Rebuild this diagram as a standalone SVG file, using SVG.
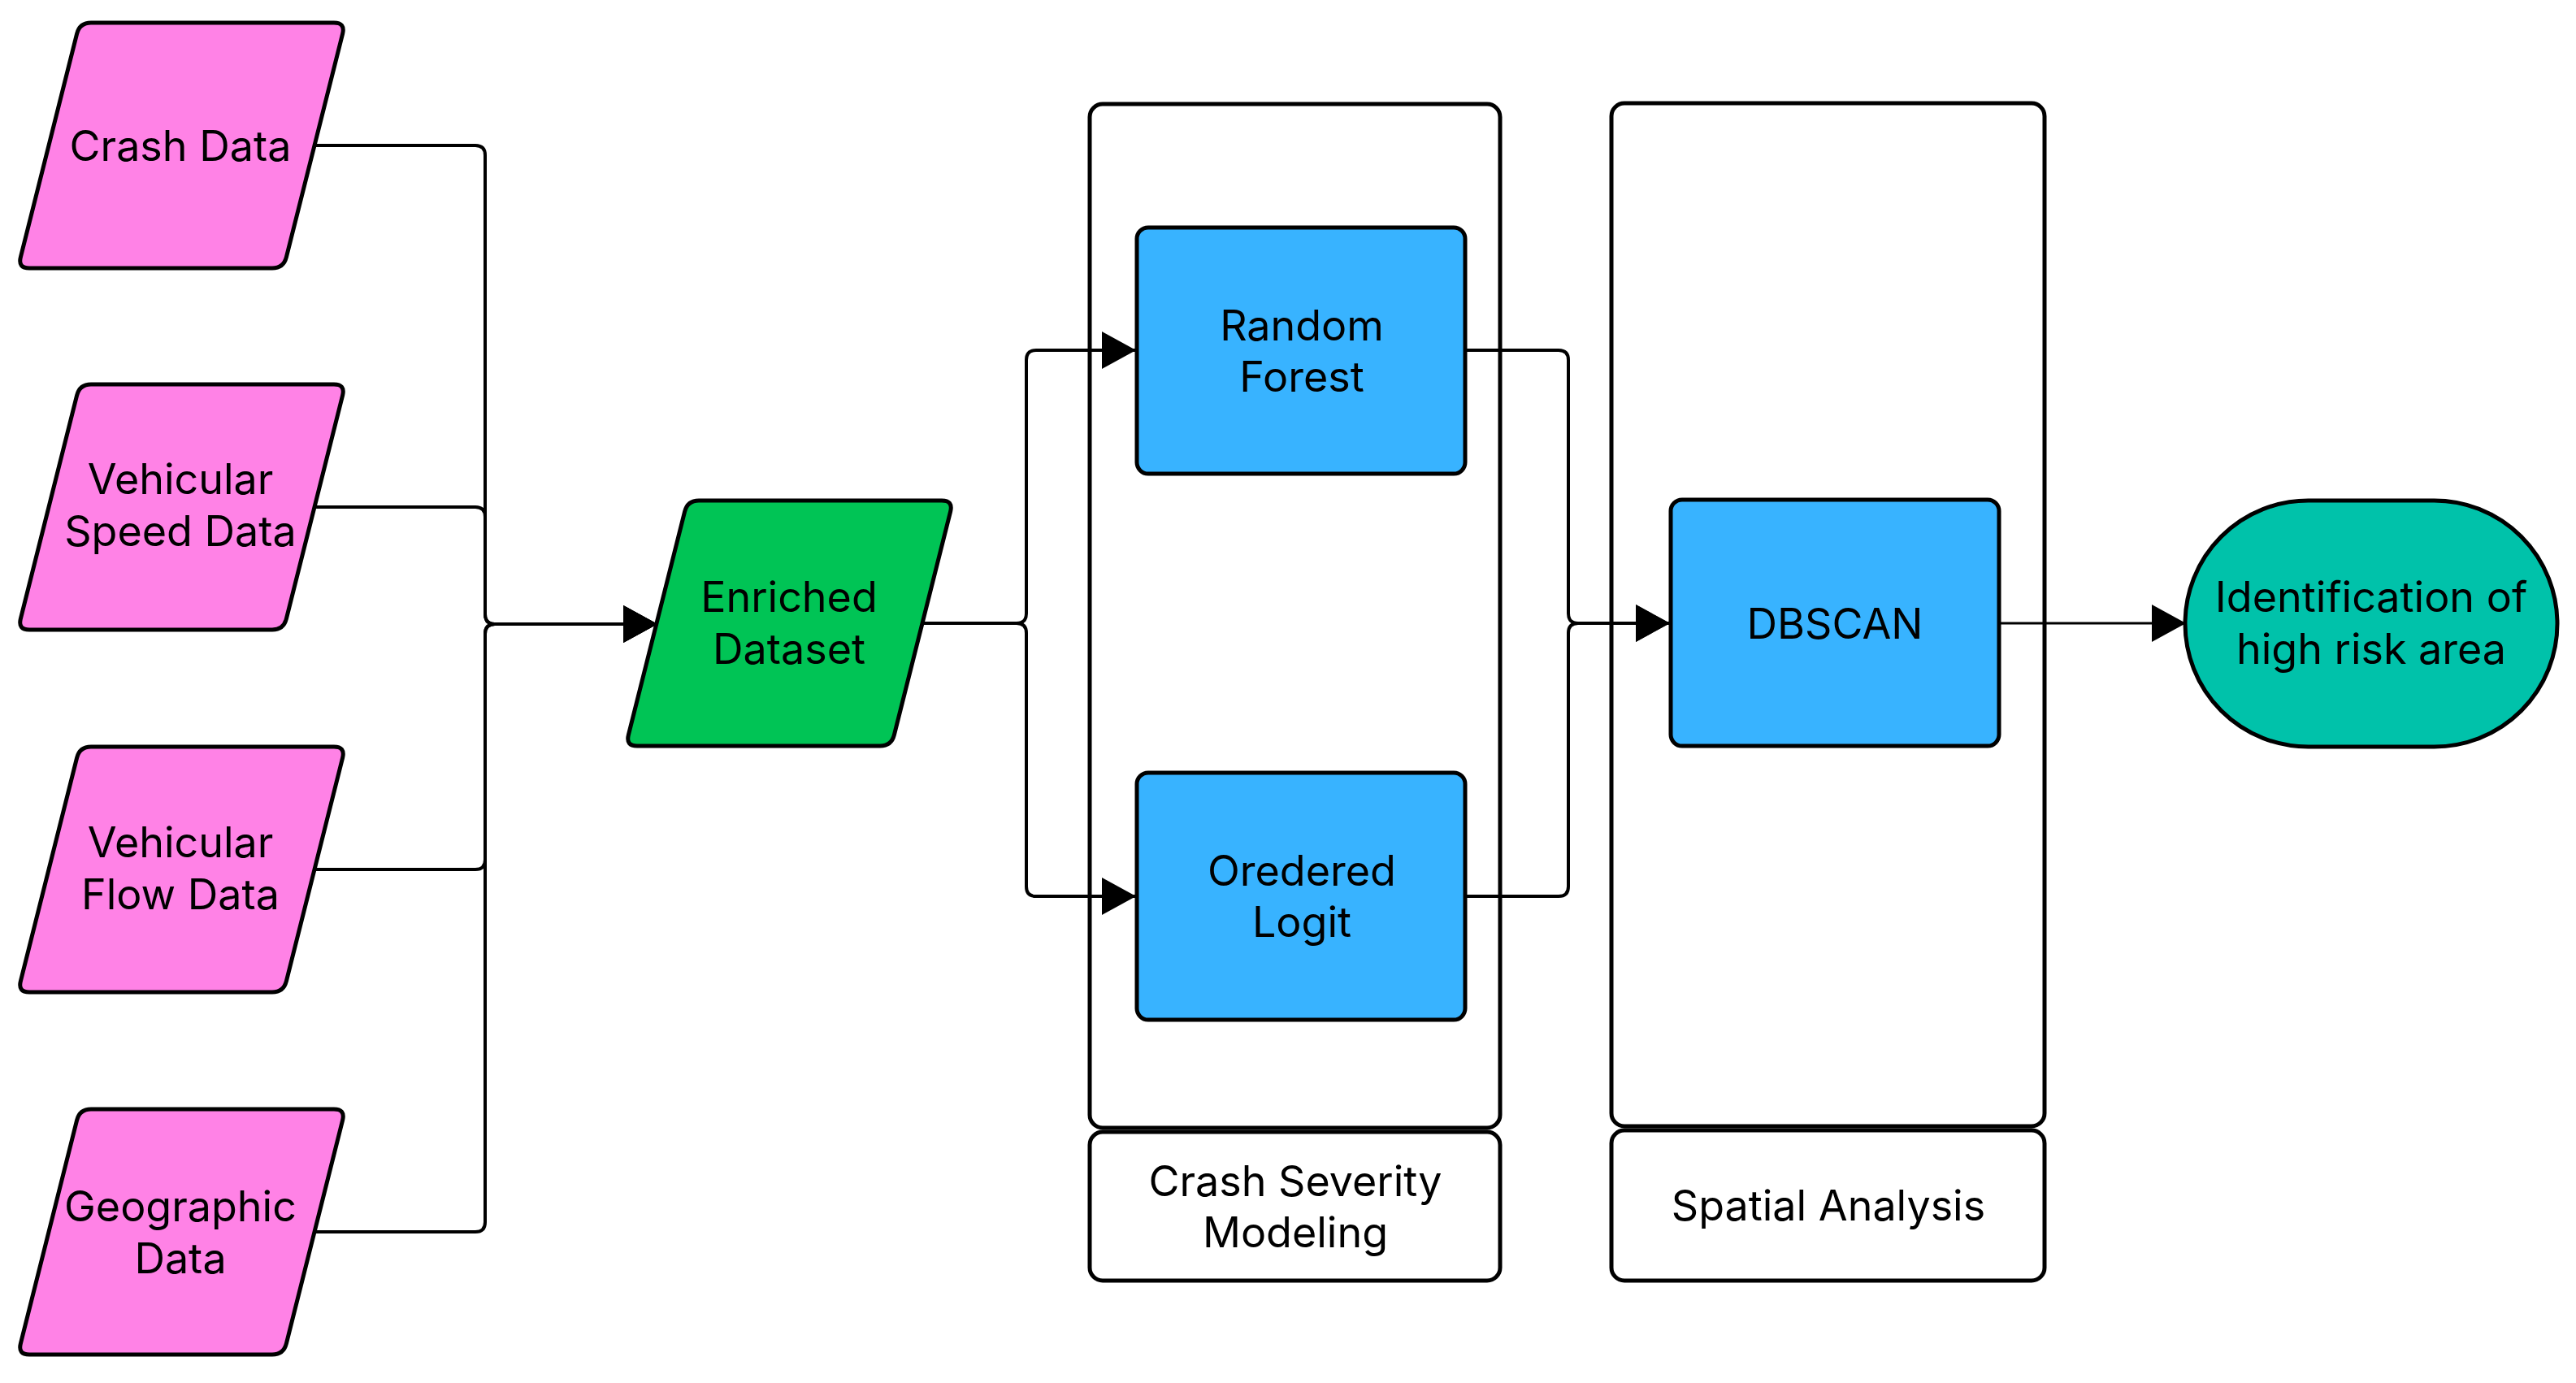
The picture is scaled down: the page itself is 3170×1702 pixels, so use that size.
<svg xmlns="http://www.w3.org/2000/svg" width="3170" height="1702" viewBox="0 0 3170 1702">
  <style>
    .lbl { font-family: Inter, "Noto Sans", "Liberation Sans", sans-serif; font-size: 52px; fill: #000; text-anchor: middle; }
    .input { fill: #FF82E6; stroke: #000; stroke-width: 5; }
    .enriched { fill: #00C455; stroke: #000; stroke-width: 5; }
    .proc { fill: #38B3FF; stroke: #000; stroke-width: 5; }
    .term { fill: #00C2AA; stroke: #000; stroke-width: 5; }
    .container { fill: none; stroke: #000; stroke-width: 5; }
    .conn { fill: none; stroke: #000; stroke-width: 4; marker-end: url(#arrow); }
    .conn.thin { stroke-width: 3; }
  </style>
  <defs>
    <path id="para" d="M 112,0 L 411,0 Q 425,0 421.6,13.6 L 352.4,288.4 Q 349,302 335,302 L 36,302 Q 22,302 25.4,288.4 L 94.6,13.6 Q 98,0 112,0 Z"/>
    <marker id="arrow" markerUnits="userSpaceOnUse" markerWidth="42" markerHeight="46" viewBox="0 0 42 46" refX="41" refY="23" orient="auto">
      <path d="M 0,0 L 42,23 L 0,46 Z" fill="#000"/>
    </marker>
  </defs>
  <rect width="3170" height="1702" fill="#fff"/>

  <g id="crash-severity-container">
    <rect class="container" x="1341" y="128" width="505" height="1260" rx="16"/>
    <rect class="container" x="1341" y="1393" width="505" height="183" rx="16"/>
    <text class="lbl" x="1594" y="1472">Crash Severity</text>
    <text class="lbl" x="1594" y="1535">Modeling</text>
  </g>
  <g id="spatial-analysis-container">
    <rect class="container" x="1983" y="127" width="533" height="1259" rx="16"/>
    <rect class="container" x="1983" y="1391" width="533" height="185" rx="16"/>
    <text class="lbl" x="2250" y="1502">Spatial Analysis</text>
  </g>

  <g id="connectors">
    <path class="conn" d="M 388,179 H 585 Q 597,179 597,191 V 756 Q 597,768 609,768 H 808"/>
    <path class="conn" d="M 388,624 H 585 Q 597,624 597,636 V 756 Q 597,768 609,768 H 808"/>
    <path class="conn" d="M 388,1070 H 585 Q 597,1070 597,1058 V 780 Q 597,768 609,768 H 808"/>
    <path class="conn" d="M 388,1516 H 585 Q 597,1516 597,1504 V 780 Q 597,768 609,768 H 808"/>
    <path class="conn" d="M 1133,767 H 1251 Q 1263,767 1263,755 V 443 Q 1263,431 1275,431 H 1397"/>
    <path class="conn" d="M 1133,767 H 1251 Q 1263,767 1263,779 V 1091 Q 1263,1103 1275,1103 H 1397"/>
    <path class="conn" d="M 1803,431 H 1918 Q 1930,431 1930,443 V 755 Q 1930,767 1942,767 H 2054"/>
    <path class="conn" d="M 1803,1103 H 1918 Q 1930,1103 1930,1091 V 779 Q 1930,767 1942,767 H 2054"/>
    <path class="conn thin" d="M 2460,767 H 2689"/>
  </g>

  <g id="crash-data">
    <use href="#para" class="input" transform="translate(0,28)"/>
    <text class="lbl" x="222" y="198">Crash Data</text>
  </g>
  <g id="vehicular-speed-data">
    <use href="#para" class="input" transform="translate(0,473)"/>
    <text class="lbl" x="222" y="608">Vehicular</text>
    <text class="lbl" x="222" y="672">Speed Data</text>
  </g>
  <g id="vehicular-flow-data">
    <use href="#para" class="input" transform="translate(0,919)"/>
    <text class="lbl" x="222" y="1055">Vehicular</text>
    <text class="lbl" x="222" y="1119">Flow Data</text>
  </g>
  <g id="geographic-data">
    <use href="#para" class="input" transform="translate(0,1365)"/>
    <text class="lbl" x="222" y="1503">Geographic</text>
    <text class="lbl" x="222" y="1567">Data</text>
  </g>

  <g id="enriched-dataset">
    <use href="#para" class="enriched" transform="translate(748,616)"/>
    <text class="lbl" x="971" y="753">Enriched</text>
    <text class="lbl" x="971" y="817">Dataset</text>
  </g>

  <g id="random-forest">
    <rect class="proc" x="1399" y="280" width="404" height="303" rx="14"/>
    <text class="lbl" x="1602" y="419">Random</text>
    <text class="lbl" x="1602" y="482">Forest</text>
  </g>
  <g id="ordered-logit">
    <rect class="proc" x="1399" y="951" width="404" height="304" rx="14"/>
    <text class="lbl" x="1602" y="1090">Oredered</text>
    <text class="lbl" x="1602" y="1153">Logit</text>
  </g>

  <g id="dbscan">
    <rect class="proc" x="2056" y="615" width="404" height="303" rx="14"/>
    <text class="lbl" x="2258" y="786">DBSCAN</text>
  </g>

  <g id="high-risk-area">
    <rect class="term" x="2689" y="616" width="458" height="303" rx="151.5"/>
    <text class="lbl" x="2918" y="753">Identification of</text>
    <text class="lbl" x="2918" y="817">high risk area</text>
  </g>
</svg>
